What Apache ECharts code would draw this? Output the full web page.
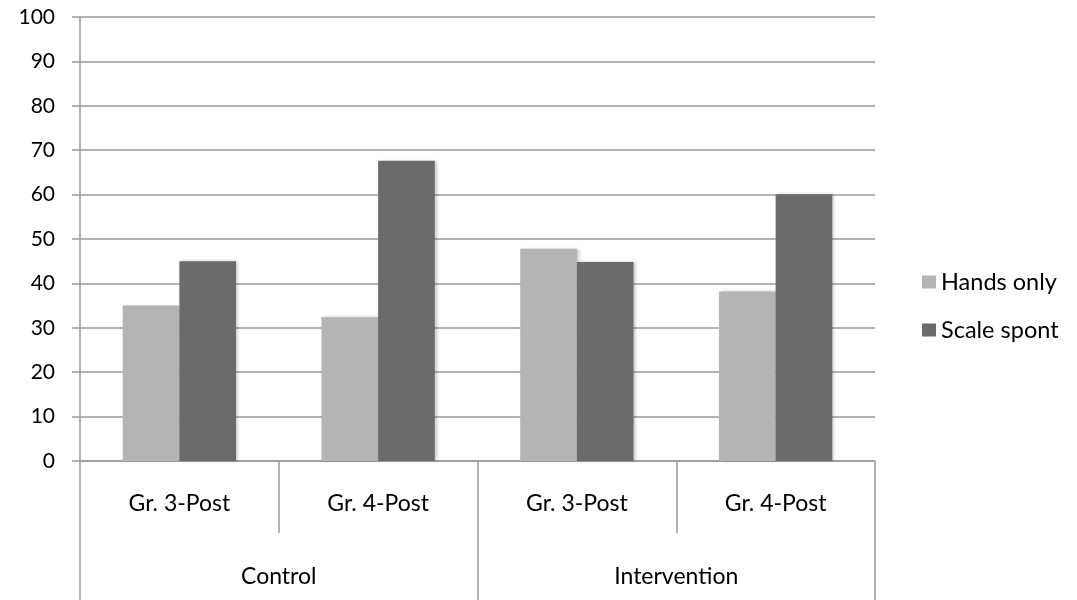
<!DOCTYPE html>
<html>
<head>
<meta charset="utf-8">
<script src="https://cdn.jsdelivr.net/npm/echarts@6/dist/echarts.min.js"></script>
<style>
  html, body { margin: 0; padding: 0; background: #fff; }
  #chart { width: 1077px; height: 600px; }
</style>
</head>
<body>
<div id="chart"></div>
<script>
// Sub-groups (inner axis) and groups (outer axis)
const subCategories = ['Gr. 3-Post', 'Gr. 4-Post', 'Gr. 3-Post', 'Gr. 4-Post'];
const groups = ['Control', 'Intervention'];

// Percentages per condition
const handsOnly = [35.0, 32.4, 47.8, 38.2];
const scaleSpont = [45.0, 67.6, 44.8, 60.1];

const seriesNames = ['Hands only', 'Scale spont'];
const fontFamily = 'Lato, "Open Sans", sans-serif';
const lineColor = '#9a9a9a';

const chart = echarts.init(document.getElementById('chart'));

const barShadow = {
  shadowColor: 'rgba(0,0,0,0.22)',
  shadowBlur: 3,
  shadowOffsetX: 2,
  shadowOffsetY: 0
};

chart.setOption({
  animation: false,
  backgroundColor: '#ffffff',
  textStyle: { fontFamily: fontFamily, color: '#000' },
  grid: { left: 80, right: 202, top: 17, bottom: 139, containLabel: false },
  legend: {
    orient: 'vertical',
    left: 917,
    top: 265,
    icon: 'rect',
    itemWidth: 14,
    itemHeight: 13,
    itemGap: 24,
    textStyle: { fontFamily: fontFamily, fontSize: 23.5, color: '#000' },
    data: seriesNames
  },
  xAxis: [
    {
      type: 'category',
      data: subCategories,
      position: 'bottom',
      boundaryGap: true,
      axisLine: { show: true, lineStyle: { color: lineColor, width: 1.5 } },
      axisTick: { show: true, length: 72, lineStyle: { color: lineColor, width: 1.5 } },
      axisLabel: { margin: 31, fontSize: 23, color: '#000', fontFamily: fontFamily },
      splitLine: { show: false }
    },
    {
      type: 'category',
      data: groups,
      position: 'bottom',
      offset: 0,
      boundaryGap: true,
      axisLine: { show: false },
      axisTick: { show: true, length: 139, lineStyle: { color: lineColor, width: 1.5 } },
      axisLabel: { margin: 104, fontSize: 23, color: '#000', fontFamily: fontFamily },
      splitLine: { show: false }
    }
  ],
  yAxis: {
    type: 'value',
    min: 0,
    max: 100,
    interval: 10,
    axisLine: { show: true, lineStyle: { color: lineColor, width: 1.5 } },
    axisTick: { show: true, length: 8, lineStyle: { color: lineColor, width: 1.5 } },
    axisLabel: { margin: 25, fontSize: 21, color: '#000', fontFamily: fontFamily },
    splitLine: { show: true, lineStyle: { color: lineColor, width: 1.5 } }
  },
  series: [
    {
      name: seriesNames[0],
      type: 'bar',
      xAxisIndex: 0,
      data: handsOnly,
      barGap: '0%',
      barCategoryGap: '43%',
      itemStyle: Object.assign({ color: '#b4b4b4' }, barShadow)
    },
    {
      name: seriesNames[1],
      type: 'bar',
      xAxisIndex: 0,
      data: scaleSpont,
      barGap: '0%',
      barCategoryGap: '43%',
      itemStyle: Object.assign({ color: '#6b6b6b' }, barShadow)
    }
  ]
});
</script>
</body>
</html>
